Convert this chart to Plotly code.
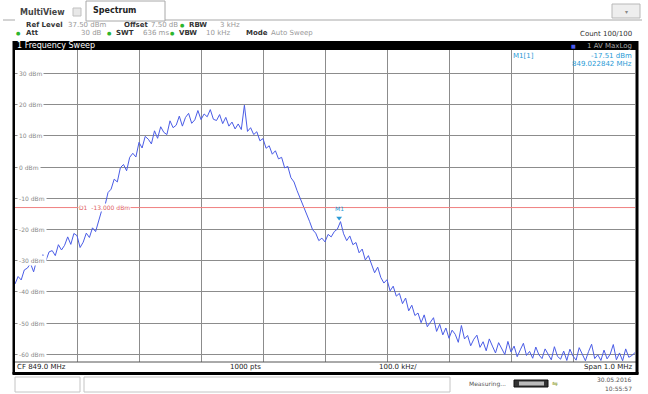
import plotly.graph_objects as go

# ---------------- data ----------------
center_mhz = 849.0
span_mhz = 1.0
offset_khz = list(range(-500, 501, 5))
level_dbm = [
    -37.5, -35.1, -36.2, -33.0, -32.4, -30.9, -33.6, -29.8, -30.6, -28.1,
    -29.9, -27.2, -26.8, -28.4, -24.9, -26.6, -25.1, -22.4, -24.8, -21.3,
    -22.0, -25.8, -24.1, -21.2, -22.6, -19.5, -20.7, -16.9, -13.8, -12.5,
    -8.2, -7.1, -3.9, -4.8, -0.2, 0.8, -1.2, 3.1, 4.4, 3.2,
    7.9, 6.1, 9.8, 8.9, 7.4, 11.6, 9.2, 12.9, 11.1, 10.4,
    14.8, 12.6, 13.4, 16.3, 13.1, 15.9, 17.2, 14.0, 15.1, 18.1,
    15.2, 17.0, 16.1, 18.4, 15.3, 14.9, 16.8, 13.9, 15.9, 13.1,
    14.4, 12.2, 13.8, 12.0, 19.8, 11.4, 12.6, 10.4, 11.3, 8.4,
    9.1, 6.0, 6.8, 4.1, 5.2, 2.6, 3.1, -0.3, 0.2, -3.4,
    -4.8, -7.6, -9.9, -12.7, -14.8, -17.4, -20.1, -21.2, -23.6, -22.8,
    -24.0, -21.6, -22.4, -20.7, -19.9, -17.51, -21.4, -23.6, -22.1, -24.9,
    -24.2, -27.5, -26.3, -29.8, -28.4, -31.3, -33.9, -32.1, -35.4, -37.2,
    -36.1, -39.7, -38.2, -41.4, -40.5, -43.8, -42.0, -46.1, -44.3, -47.6,
    -46.8, -49.9, -47.4, -51.2, -49.6, -48.3, -52.7, -50.4, -53.8, -51.6,
    -54.9, -52.3, -53.6, -56.2, -50.8, -55.1, -54.0, -57.3, -55.2, -53.9,
    -57.8, -56.0, -58.9, -55.1, -57.4, -59.6, -56.3, -58.2, -60.1, -55.9,
    -59.3, -57.4, -60.8, -58.6, -56.5, -60.4, -59.1, -61.3, -57.7, -60.2,
    -61.4, -58.3, -59.9, -61.8, -57.6, -60.7, -61.6, -59.0, -62.0, -58.4,
    -60.6, -61.9, -57.9, -60.3, -62.1, -59.2, -56.8, -61.4, -60.2, -62.0,
    -58.7, -61.5, -60.0, -56.9, -61.8, -59.6, -62.1, -58.3, -61.0, -60.4, -59.5,
]
ref_level_dbm = 37.5
y_bottom_dbm = -62.5
ytick_values = [30, 20, 10, 0, -10, -20, -30, -40, -50, -60]
ytick_labels = ["30 dBm", "20 dBm", "10 dBm", "0 dBm", "-10 dBm", "-20 dBm",
                "-30 dBm", "-40 dBm", "-50 dBm", "-60 dBm"]
display_line_dbm = -13.0
marker_freq_mhz = 849.022842
marker_level_dbm = -17.51

freqs = [center_mhz + k / 1000.0 for k in offset_khz]

# ---------------- layout helpers (pixel -> paper) ----------------
W, H = 648, 394
PL, PR, PT, PB = 15, 635, 50, 362


def X(px):
    return (px - PL) / (PR - PL)


def Y(py):
    return (PB - py) / (PB - PT)


FONT = "DejaVu Sans"
shapes = []
ann = []


def rect(x0, y0, x1, y1, fill=None, line=None, lw=1):
    shapes.append(dict(type="rect", xref="paper", yref="paper",
                       x0=X(x0), x1=X(x1), y0=Y(y1), y1=Y(y0),
                       fillcolor=fill or "rgba(0,0,0,0)",
                       line=dict(color=line or "rgba(0,0,0,0)", width=lw if line else 0),
                       layer="above"))


def hline(x0, x1, y, color, w=1, layer="above"):
    shapes.append(dict(type="line", xref="paper", yref="paper",
                       x0=X(x0), x1=X(x1), y0=Y(y), y1=Y(y),
                       line=dict(color=color, width=w), layer=layer))


def text(x, y, s, size=7, color="#222", anchor="left", bold=False, bg=None, family=FONT):
    if bold:
        s = "<b>" + s + "</b>"
    ann.append(dict(xref="paper", yref="paper", x=X(x), y=Y(y), text=s,
                    showarrow=False, xanchor=anchor, yanchor="middle",
                    font=dict(size=size, color=color, family=family),
                    bgcolor=bg, borderpad=0))


fig = go.Figure()

fig.add_trace(go.Scatter(
    x=freqs, y=level_dbm, mode="lines",
    line=dict(color="#4a5ce6", width=1), hoverinfo="skip", showlegend=False))

# display line D1
fig.add_hline(y=display_line_dbm, line=dict(color="#f08080", width=1))

# marker M1
fig.add_trace(go.Scatter(
    x=[marker_freq_mhz], y=[marker_level_dbm + 1.2], mode="markers",
    marker=dict(symbol="triangle-down", size=5, color="#2a9ad6"),
    hoverinfo="skip", showlegend=False))
fig.add_annotation(x=marker_freq_mhz, y=marker_level_dbm + 4.2, text="M1",
                   showarrow=False, font=dict(size=6, color="#2a9ad6", family=FONT))

# y tick labels inside the plot
for v, lab in zip(ytick_values, ytick_labels):
    fig.add_annotation(xref="paper", x=X(17), y=v, text=lab, showarrow=False,
                       xanchor="left", yanchor="middle", bgcolor="white", borderpad=1,
                       font=dict(size=6, color="#888", family=FONT))

# D1 label
fig.add_annotation(xref="paper", x=X(78), y=display_line_dbm, text="D1  -13.000 dBm",
                   showarrow=False, xanchor="left", yanchor="middle", bgcolor="white",
                   borderpad=0, font=dict(size=6, color="#e06060", family=FONT))

# ---------------- chrome ----------------
# tabs
rect(15, 4, 86, 20, fill="#d9d9d9", line="#a8a8a8")
text(19, 12, "MultiView", size=8, color="#444", bold=True)
rect(73, 8, 81, 16, fill="#e8e8e8", line="#c0c0c0")
rect(86, 1, 165, 21, fill="white", line="#a8a8a8")
text(92, 10, "Spectrum", size=8, color="#222", bold=True)
hline(165, 642, 20, "#a8a8a8")
hline(3, 15, 20, "#a8a8a8")
rect(612, 4, 640, 18, fill="#eeeeee", line="#b8b8b8")
text(626, 11, "▾", size=6, color="#888", anchor="center")

# info rows
text(25, 25, "Ref Level", size=7, color="#333", bold=True)
text(67, 25, "37.50 dBm", size=7, color="#999")
text(123, 25, "Offset", size=7, color="#333", bold=True)
text(150, 25, "7.50 dB", size=7, color="#999")
text(179, 25, "●", size=5, color="#2db52d")
text(188, 25, "RBW", size=7, color="#333", bold=True)
text(219, 25, "3 kHz", size=7, color="#999")

text(15, 33.5, "●", size=5, color="#2db52d")
text(25, 33.5, "Att", size=7, color="#333", bold=True)
text(103, 33.5, "30 dB", size=7, color="#999", anchor="right")
text(106, 33.5, "●", size=5, color="#2db52d")
text(115, 33.5, "SWT", size=7, color="#333", bold=True)
text(142, 33.5, "636 ms", size=7, color="#999")
text(169, 33.5, "●", size=5, color="#2db52d")
text(178, 33.5, "VBW", size=7, color="#333", bold=True)
text(205, 33.5, "10 kHz", size=7, color="#999")
text(245, 33.5, "Mode", size=7, color="#333", bold=True)
text(270, 33.5, "Auto Sweep", size=7, color="#999")
text(633, 34, "Count 100/100", size=7, color="#333", anchor="right")

# black header bar
rect(13, 41, 638, 50, fill="black")
text(16, 45.5, "1 Frequency Sweep", size=8, color="white")
text(570, 45.5, "■", size=5, color="#4a5cf0")
text(633, 45.5, "1 AV MaxLog", size=7, color="#aaa", anchor="right")

# marker info
text(512, 56, "M1[1]", size=7, color="#2a9ad6")
text(633, 56, "-17.51 dBm", size=7, color="#2a9ad6", anchor="right")
text(633, 64, "849.022842 MHz", size=7, color="#2a9ad6", anchor="right")

# bottom text row within frame
rect(15, 362, 636, 372, fill="white")
hline(15, 636, 362, "#555")
text(16, 367, "CF 849.0 MHz", size=7, color="#222")
text(245, 367, "1000 pts", size=7, color="#222", anchor="center")
text(378, 367, "100.0 kHz/", size=7, color="#222")
text(633, 367, "Span 1.0 MHz", size=7, color="#222", anchor="right")

# frame
rect(12.5, 41, 15, 374, fill="black")
rect(635.5, 41, 638.5, 374, fill="black")
rect(12.5, 372, 638.5, 375, fill="black")

# status bar
rect(15, 377, 80, 392, fill="white", line="#c4c4c4")
rect(84, 377, 450, 392, fill="white", line="#c4c4c4")
text(468, 384, "Measuring...", size=6, color="#555")
rect(514, 380, 548, 387, fill="#333", line="#111")
rect(519, 381.5, 544, 385.5, fill="#bbb")
text(551, 383.5, "⇋", size=7, color="#8a9a2a")
text(633, 379, "30.05.2016", size=6, color="#555", anchor="right")
text(633, 388, "10:55:57", size=6, color="#555", anchor="right")

fig.update_layout(
    width=W, height=H,
    margin=dict(l=PL, r=W - PR, t=PT, b=H - PB),
    paper_bgcolor="white", plot_bgcolor="white",
    showlegend=False,
    shapes=shapes,
    annotations=list(fig.layout.annotations) + ann,
    xaxis=dict(range=[center_mhz - span_mhz / 2, center_mhz + span_mhz / 2],
               tick0=center_mhz - span_mhz / 2, dtick=span_mhz / 10,
               showgrid=True, gridcolor="#8c8c8c", gridwidth=1,
               showticklabels=False, ticks="", zeroline=False, showline=False),
    yaxis=dict(range=[y_bottom_dbm, ref_level_dbm], tick0=-60, dtick=10,
               showgrid=True, gridcolor="#8c8c8c", gridwidth=1,
               showticklabels=False, ticks="", zeroline=False, showline=False),
)

fig.write_html("out.html", config={"displayModeBar": False},
               post_script="document.body.style.margin='0';document.body.style.overflow='hidden';")
